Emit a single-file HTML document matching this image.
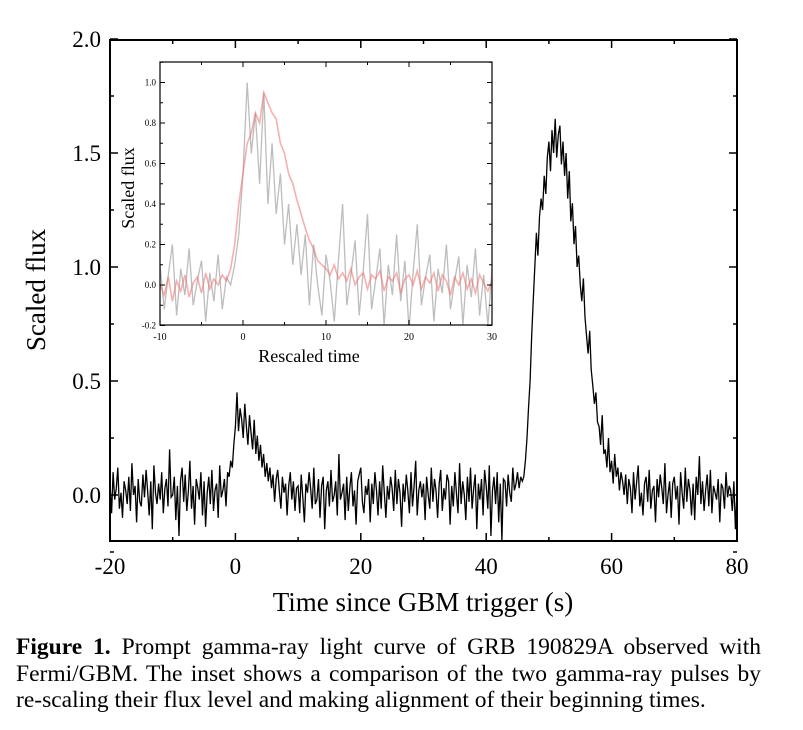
<!DOCTYPE html>
<html><head><meta charset="utf-8"><style>
body{margin:0;background:#fff;width:803px;height:730px;overflow:hidden;font-family:"Liberation Serif",serif}
.cap{position:absolute;left:16px;width:745px;font-size:23.5px;line-height:26.5px;text-align:justify}
.cap div{text-align-last:justify;white-space:nowrap}
.cap div.last{text-align-last:left}
</style></head><body>
<svg id="chart" width="803" height="630" style="position:absolute;left:0;top:0" font-family="Liberation Serif, serif">
<defs>
<clipPath id="mc"><rect x="110" y="40" width="627" height="501"/></clipPath>
<clipPath id="ic"><rect x="160" y="62" width="332" height="263"/></clipPath>
</defs>
<g id="main"></g>
<g id="inset"></g>
</svg>
<div class="cap" style="top:634px">
<div><b>Figure 1.</b> Prompt gamma-ray light curve of GRB 190829A observed with</div>
<div>Fermi/GBM. The inset shows a comparison of the two gamma-ray pulses by</div>
<div class="last">re-scaling their flux level and making alignment of their beginning times.</div>
</div>
<script>
const mainT0 = -20, mainStep = 0.25;
const mainFlux = [
0.05,-0.08,0.10,-0.02,0.03,0.12,-0.06,0.01,-0.10,0.06,0.02,-0.04,0.08,-0.07,0.14,0.00,0.04,-0.12,0.07,-0.03,
-0.05,0.09,-0.01,0.11,0.02,-0.09,0.06,-0.15,0.13,0.01,-0.04,0.05,-0.02,0.10,-0.08,0.03,0.07,-0.05,0.20,-0.01,
0.00,0.08,-0.11,0.04,-0.18,0.06,0.12,-0.03,0.09,-0.07,0.02,0.15,-0.06,0.04,-0.13,0.07,0.03,-0.02,0.10,-0.09,
0.06,-0.14,0.01,0.08,-0.04,0.11,-0.07,0.02,0.05,-0.10,0.13,-0.01,0.02,0.07,-0.05,0.10,0.08,0.15,0.12,0.22,
0.30,0.45,0.28,0.38,0.33,0.25,0.40,0.30,0.22,0.35,0.27,0.20,0.33,0.18,0.26,0.15,0.22,0.12,0.18,0.08,
0.14,0.06,0.12,0.03,0.09,-0.03,0.07,0.11,0.02,-0.06,0.08,0.01,0.05,-0.09,0.04,0.10,-0.02,0.06,-0.07,0.03,
0.04,-0.08,0.09,-0.01,-0.12,0.05,0.01,0.10,0.03,-0.06,0.12,-0.04,-0.02,0.07,-0.10,0.04,0.08,-0.15,0.02,0.06,
-0.05,0.11,-0.03,0.00,0.06,-0.09,0.18,-0.02,0.01,0.05,-0.11,0.08,-0.07,0.03,0.10,-0.05,0.02,-0.13,0.06,0.09,
0.12,-0.03,-0.08,0.04,0.00,0.07,-0.12,0.05,-0.04,0.10,0.02,-0.09,0.06,-0.06,0.13,0.01,-0.10,0.04,-0.02,0.08,
0.03,-0.07,0.11,-0.04,0.07,0.01,-0.14,0.05,-0.03,0.09,0.02,-0.08,0.10,-0.05,0.04,0.15,-0.09,0.02,0.06,-0.01,
0.05,-0.11,0.08,0.00,-0.06,0.12,-0.03,0.07,0.02,-0.10,0.05,0.11,-0.07,0.03,-0.02,0.09,0.06,-0.13,0.04,-0.05,
0.10,0.01,-0.08,0.14,-0.04,0.06,0.00,-0.11,0.08,-0.03,0.12,-0.06,0.03,0.09,-0.15,0.05,-0.02,0.07,-0.09,0.11,
0.04,-0.06,0.13,-0.18,0.02,0.08,-0.04,0.10,-0.12,0.05,-0.20,0.07,0.06,-0.05,0.09,0.01,
-0.03,0.12,0.02,0.05,0.10,0.03,0.08,0.06,
0.08,0.15,0.25,0.38,0.50,0.70,0.85,1.00,1.15,1.05,1.22,1.30,1.25,1.40,1.32,1.48,1.55,1.42,1.60,1.50,
1.65,1.48,1.58,1.62,1.45,1.55,1.40,1.50,1.30,1.42,1.20,1.28,1.10,1.18,1.00,1.05,0.92,0.85,0.95,0.78,
0.70,0.62,0.72,0.55,0.48,0.40,0.45,0.32,0.30,0.22,0.35,0.18,0.20,0.12,0.25,0.10,0.15,0.05,0.18,0.08,
0.12,0.02,0.10,0.06,0.00,0.09,-0.04,0.07,
0.03,-0.08,0.10,-0.02,0.06,0.13,-0.05,0.01,-0.09,0.05,0.08,-0.03,0.11,-0.06,0.02,0.04,-0.12,0.07,-0.01,0.09,
0.03,-0.04,0.14,-0.08,0.00,0.06,-0.10,0.05,0.08,-0.02,0.04,-0.13,0.10,0.01,-0.06,0.12,-0.03,0.07,0.02,-0.09,
0.05,-0.11,0.08,0.00,0.17,-0.04,0.06,-0.07,0.02,0.09,-0.05,0.11,-0.08,0.04,0.01,-0.02,0.07,-0.12,0.05,0.03,
-0.06,0.10,-0.01,0.04,0.02,-0.07,0.06,-0.15,0.01];
const mainXTicks = [-20,0,20,40,60,80];
const mainYTicks = [0.0,0.5,1.0,1.5,2.0];
const insetT0 = -10, insetStep = 0.5;
const insetGray = [0.10,-0.12,0.05,0.20,-0.15,0.08,-0.05,0.18,-0.10,0.02,0.12,-0.18,0.06,-0.08,0.15,-0.12,0.04,0.00,
0.10,0.25,0.55,1.00,0.65,0.85,0.50,0.95,0.40,0.70,0.35,0.55,0.20,0.40,0.10,0.30,0.05,0.25,-0.10,0.20,0.00,-0.15,0.15,
0.02,-0.18,0.12,0.40,-0.10,0.05,0.22,-0.15,0.08,0.35,-0.12,0.03,0.18,-0.20,0.10,-0.05,0.25,-0.08,0.12,-0.22,
0.06,0.30,-0.10,0.04,0.15,-0.18,0.08,-0.04,0.20,-0.12,0.02,0.14,-0.20,0.10,-0.06,0.18,-0.15,0.05,-0.20,0.08];
const insetPink = [0.00,-0.05,0.04,-0.08,0.02,-0.03,0.05,-0.06,0.01,0.04,-0.04,0.06,-0.02,0.03,0.00,0.05,0.02,0.08,
0.20,0.40,0.55,0.70,0.75,0.85,0.80,0.95,0.90,0.85,0.82,0.70,0.65,0.55,0.50,0.42,0.35,0.28,0.22,0.18,0.12,0.10,0.08,
0.05,0.10,0.03,0.06,0.02,0.08,0.00,0.04,0.06,-0.02,0.05,0.03,0.07,-0.03,0.04,0.02,0.06,-0.04,0.03,0.05,
0.00,0.07,-0.02,0.04,0.01,0.06,-0.03,0.05,0.02,-0.05,0.04,0.00,0.06,-0.02,0.03,-0.04,0.05,0.01,-0.03,0.02];
const insetXTicks = [-10,0,10,20,30];
const insetYTicks = [-0.2,0.0,0.2,0.4,0.6,0.8,1.0];

const NS="http://www.w3.org/2000/svg";
function mk(parent,tag,attrs,text){const e=document.createElementNS(NS,tag);for(const k in attrs)e.setAttribute(k,attrs[k]);if(text!==undefined)e.textContent=text;parent.appendChild(e);return e;}

const mx=t=>110+(t+20)*627/100;
const my=v=>495-v*228;
const g=document.getElementById('main');
let pts=mainFlux.map((v,i)=>mx(mainT0+i*mainStep).toFixed(1)+','+my(v).toFixed(1)).join(' ');
const ml=mk(g,'polyline',{points:pts,fill:'none',stroke:'#000','stroke-width':1.3,'clip-path':'url(#mc)'});


const mf=mk(g,'rect',{x:110,y:40,width:627,height:501,fill:'none',stroke:'#000','stroke-width':2});


for(let t=-20;t<=80;t+=10){const major=t%20===0;const L=major?8:4;const x=mx(t);
 mk(g,'line',{x1:x,y1:541,x2:x,y2:541-L,stroke:'#000','stroke-width':1.5});
 mk(g,'line',{x1:x,y1:40,x2:x,y2:40+L,stroke:'#000','stroke-width':1.5});}
for(let v=-0.25;v<=2.0001;v+=0.25){const major=Math.abs(v*2-Math.round(v*2))<1e-6;const L=major?8:4;const y=my(v);
 mk(g,'line',{x1:110,y1:y,x2:110+L,y2:y,stroke:'#000','stroke-width':1.5});
 mk(g,'line',{x1:737,y1:y,x2:737-L,y2:y,stroke:'#000','stroke-width':1.5});}
mainXTicks.forEach(t=>{const e=mk(g,'text',{x:mx(t),y:574,'font-size':23,'text-anchor':'middle'},String(t));
 
 });
mainYTicks.forEach(v=>{const e=mk(g,'text',{x:101,y:my(v)+8,'font-size':23,'text-anchor':'end'},v.toFixed(1));
 
 });
const xt=mk(g,'text',{x:423,y:611,'font-size':27,'text-anchor':'middle'},'Time since GBM trigger (s)');


const yt=mk(g,'text',{x:0,y:0,'font-size':27,'text-anchor':'middle',transform:'translate(45,290) rotate(-90)'},'Scaled flux');



const ix=t=>160+(t+10)*332/40;
const iy=v=>285-v*202.5;
const h=document.getElementById('inset');
mk(h,'rect',{x:160,y:62,width:332,height:263,fill:'#fff'});
const gp=mk(h,'polyline',{points:insetGray.map((v,i)=>ix(insetT0+i*insetStep).toFixed(1)+','+iy(v).toFixed(1)).join(' '),fill:'none',stroke:'#bdbdbd','stroke-width':1.3,'clip-path':'url(#ic)'});


const pp=mk(h,'polyline',{points:insetPink.map((v,i)=>ix(insetT0+i*insetStep).toFixed(1)+','+iy(v).toFixed(1)).join(' '),fill:'none',stroke:'rgba(240,110,110,0.55)','stroke-width':1.6,'clip-path':'url(#ic)'});


const ifr=mk(h,'rect',{x:160,y:62,width:332,height:263,fill:'none',stroke:'#000','stroke-width':1.2});


for(let t=-10;t<=30;t+=5){const L=t%10===0?5:3;const x=ix(t);
 mk(h,'line',{x1:x,y1:325,x2:x,y2:325-L,stroke:'#000'});
 mk(h,'line',{x1:x,y1:62,x2:x,y2:62+L,stroke:'#000'});}
for(let k=-2;k<=11;k++){const v=k/10;const L=k%2===0?5:3;const y=iy(v);
 mk(h,'line',{x1:160,y1:y,x2:160+L,y2:y,stroke:'#000'});
 mk(h,'line',{x1:492,y1:y,x2:492-L,y2:y,stroke:'#000'});}
insetXTicks.forEach(t=>{const e=mk(h,'text',{x:ix(t),y:340,'font-size':10,'text-anchor':'middle'},String(t));
 
 });
insetYTicks.forEach(v=>{const e=mk(h,'text',{x:156,y:iy(v)+3,'font-size':9,'text-anchor':'end'},v.toFixed(1));
 
 });
const ixt=mk(h,'text',{x:309,y:362,'font-size':18,'text-anchor':'middle'},'Rescaled time');


const iyt=mk(h,'text',{x:0,y:0,'font-size':18,'text-anchor':'middle',transform:'translate(134,188) rotate(-90)'},'Scaled flux');


</script>
</body></html>
